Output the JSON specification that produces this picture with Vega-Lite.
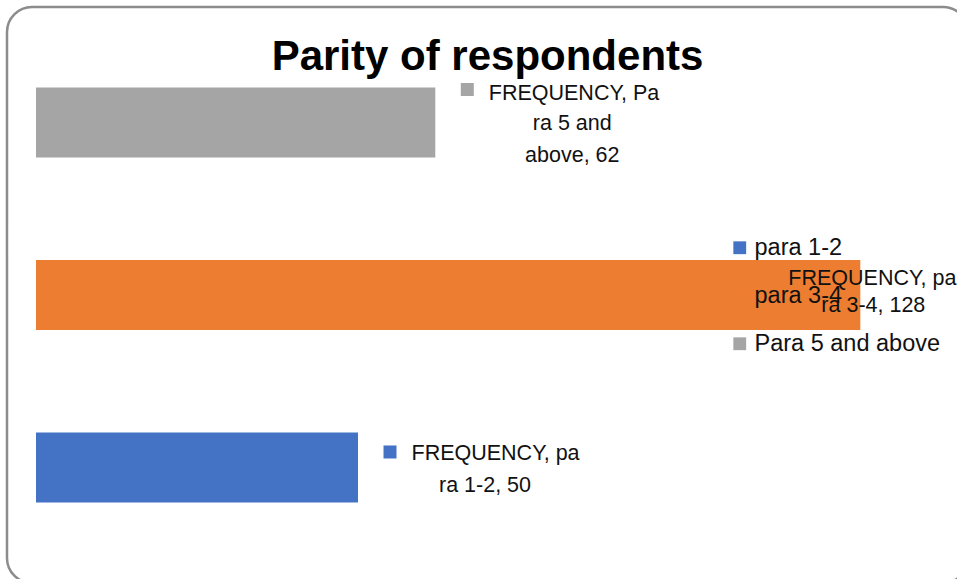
{
  "$schema": "https://vega.github.io/schema/vega-lite/v6.json",
  "width": 961,
  "height": 576,
  "autosize": {"type": "none"},
  "padding": {"left": 7, "top": 7, "right": -11, "bottom": -4},
  "background": "white",
  "config": {
    "view": {"stroke": "#8c8c8c", "strokeWidth": 2.5, "cornerRadius": 25},
    "font": "Liberation Sans"
  },
  "title": {
    "text": "Parity of respondents",
    "fontSize": 42,
    "fontWeight": "bold",
    "font": "Liberation Sans",
    "color": "#000000",
    "anchor": "middle",
    "frame": "group",
    "baseline": "alphabetic",
    "offset": -105
  },
  "data": {
    "values": [
      {"cat": "para 1-2", "value": 50, "l1": "FREQUENCY, pa", "rest": "ra 1-2, 50"},
      {"cat": "para 3-4", "value": 128, "l1": "FREQUENCY, pa", "rest": "ra 3-4, 128"},
      {"cat": "Para 5 and above", "value": 62, "l1": "FREQUENCY, Pa", "rest": "ra 5 and\nabove, 62"}
    ]
  },
  "encoding": {
    "y": {
      "field": "cat",
      "type": "nominal",
      "sort": ["Para 5 and above", "para 3-4", "para 1-2"],
      "axis": null,
      "scale": {"paddingInner": 0.594, "paddingOuter": 0.4667}
    },
    "x": {
      "field": "value",
      "type": "quantitative",
      "axis": null,
      "scale": {"domain": [0, 144.72], "range": [29, 961], "nice": false, "zero": true}
    }
  },
  "layer": [
    {
      "mark": {"type": "bar"},
      "encoding": {
        "color": {
          "field": "cat",
          "type": "nominal",
          "scale": {
            "domain": ["para 1-2", "para 3-4", "Para 5 and above"],
            "range": ["#4472C4", "#ED7D31", "#A5A5A5"]
          },
          "legend": {
            "title": null,
            "orient": "none",
            "legendX": 721,
            "legendY": 229,
            "symbolType": "square",
            "symbolSize": 164,
            "symbolStrokeWidth": 0,
            "labelFontSize": 23.5,
            "labelFont": "Liberation Sans",
            "labelColor": "#111111",
            "labelOffset": 3,
            "labelLimit": 400,
            "rowPadding": 23,
            "padding": 0
          }
        }
      }
    },
    {
      "mark": {
        "type": "point",
        "shape": "square",
        "filled": true,
        "opacity": 1,
        "size": 169,
        "xOffset": {"expr": "datum.cat === 'para 3-4' ? -94 : 32"},
        "yOffset": {"expr": "datum.cat === 'Para 5 and above' ? -33 : (datum.cat === 'para 3-4' ? -19 : -15.5)"}
      },
      "encoding": {
        "color": {"field": "cat", "type": "nominal"}
      }
    },
    {
      "mark": {
        "type": "text",
        "align": "left",
        "baseline": "alphabetic",
        "fontSize": 21.5,
        "font": "Liberation Sans",
        "color": "#111111",
        "dx": {"expr": "datum.cat === 'para 3-4' ? -72 : 53.5"},
        "dy": {"expr": "datum.cat === 'Para 5 and above' ? -23 : (datum.cat === 'para 3-4' ? -10.5 : -7)"}
      },
      "encoding": {
        "text": {"field": "l1", "type": "nominal"}
      }
    },
    {
      "mark": {
        "type": "text",
        "align": "center",
        "baseline": "alphabetic",
        "fontSize": 21.5,
        "font": "Liberation Sans",
        "color": "#111111",
        "lineBreak": "\n",
        "lineHeight": 32,
        "dx": {"expr": "datum.cat === 'Para 5 and above' ? 137 : (datum.cat === 'para 3-4' ? 13 : 127)"},
        "dy": {"expr": "datum.cat === 'Para 5 and above' ? 7 : (datum.cat === 'para 3-4' ? 16.5 : 25)"}
      },
      "encoding": {
        "text": {"field": "rest", "type": "nominal"}
      }
    }
  ]
}
